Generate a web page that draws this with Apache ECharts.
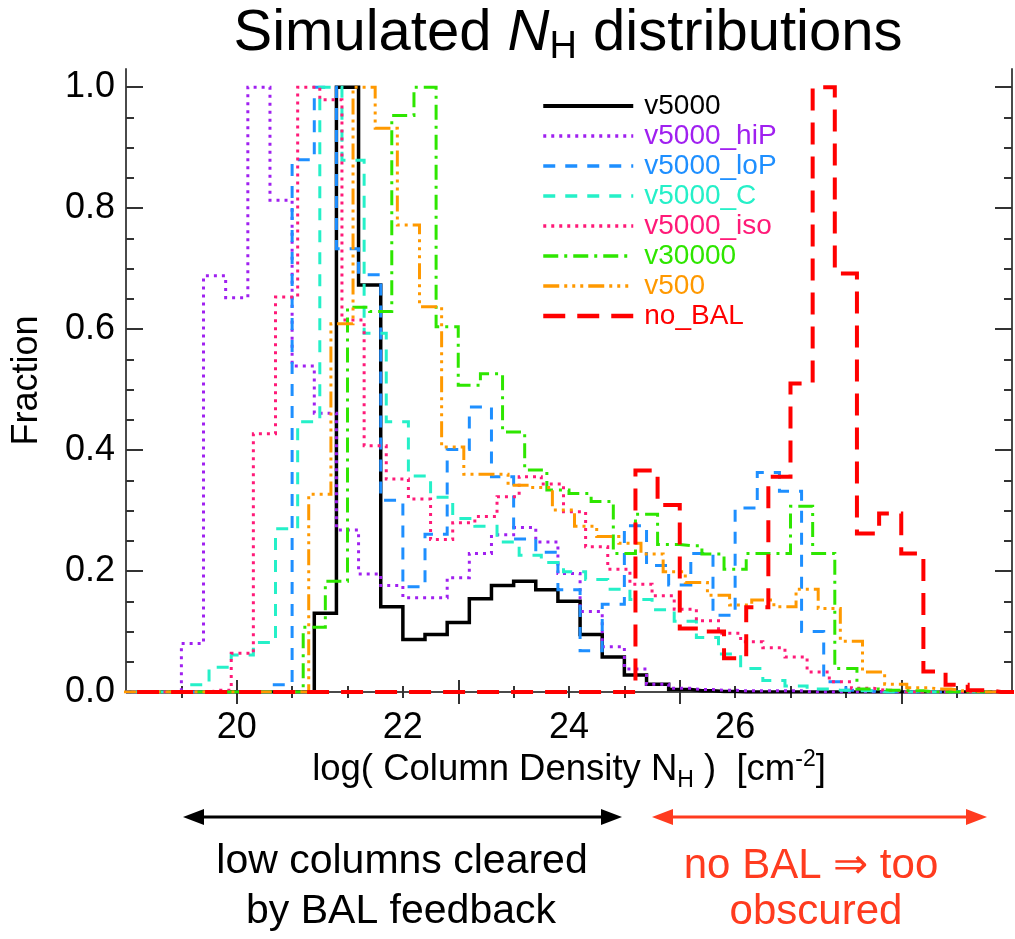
<!DOCTYPE html>
<html><head><meta charset="utf-8">
<script src="https://cdn.jsdelivr.net/npm/echarts@6/dist/echarts.min.js"></script>
<style>html,body{margin:0;padding:0;background:#fff}#c{width:1015px;height:939px}</style>
</head><body><div id="c"></div>
<script>
// ---- bin centres (log N_H) for the four bin grids used by the models ----
const nhA = [18.667,18.933,19.200,19.467,19.733,20.000,20.267,20.533,20.800,21.067,21.333,21.600,21.867,22.133,22.400,22.667,22.933,23.200,23.467,23.733,24.000,24.267,24.533,24.800,25.067,25.333,25.600,25.867,26.133,26.400,26.667,26.933,27.200,27.467,27.733,28.000,28.267,28.533,28.800,29.067,29.333];
const nhB = [18.733,19.000,19.267,19.533,19.800,20.067,20.333,20.600,20.867,21.133,21.400,21.667,21.933,22.200,22.467,22.733,23.000,23.267,23.533,23.800,24.067,24.333,24.600,24.867,25.133,25.400,25.667,25.933,26.200,26.467,26.733,27.000,27.267,27.533,27.800,28.067,28.333,28.600,28.867,29.133,29.400];
const nhC = [18.600,18.867,19.133,19.400,19.667,19.933,20.200,20.467,20.733,21.000,21.267,21.533,21.800,22.067,22.333,22.600,22.867,23.133,23.400,23.667,23.933,24.200,24.467,24.733,25.000,25.267,25.533,25.800,26.067,26.333,26.600,26.867,27.133,27.400,27.667,27.933,28.200,28.467,28.733,29.000,29.267];
const nhD = [18.800,19.067,19.333,19.600,19.867,20.133,20.400,20.667,20.933,21.200,21.467,21.733,22.000,22.267,22.533,22.800,23.067,23.333,23.600,23.867,24.133,24.400,24.667,24.933,25.200,25.467,25.733,26.000,26.267,26.533,26.800,27.067,27.333,27.600,27.867,28.133,28.400,28.667,28.933,29.200,29.467];

// ---- fractions per model ----
const v5000     = [0,0,0,0,0,0,0,0,0,0.130,1.000,0.673,0.141,0.087,0.095,0.115,0.154,0.176,0.183,0.169,0.150,0.095,0.058,0.028,0.013,0.004,0.002,0.001,0,0,0,0,0,0,0,0,0,0,0,0,0];
const v5000_hiP = [0,0,0,0.080,0.688,0.652,1.000,0.813,0.539,0.461,0.268,0.195,0.176,0.156,0.156,0.189,0.229,0.260,0.272,0.248,0.196,0.133,0.075,0.038,0.013,0.006,0.004,0.003,0.002,0.002,0.002,0,0,0,0,0,0,0,0,0,0];
const v5000_loP = [0,0,0,0,0,0,0,0.012,0.880,1.000,0.733,0.690,0.317,0.174,0.261,0.401,0.471,0.356,0.253,0.231,0.169,0.068,0.145,0.275,0.209,0.177,0.229,0.127,0.304,0.363,0.332,0.100,0.017,0.003,0,0,0,0,0,0,0];
const v5000_C   = [0,0,0,0.012,0.041,0.061,0.082,0.270,0.447,1.000,0.879,0.593,0.447,0.357,0.322,0.287,0.274,0.248,0.226,0.214,0.199,0.186,0.170,0.153,0.136,0.117,0.090,0.063,0.039,0.019,0.010,0.005,0.003,0.002,0,0,0,0,0,0,0];
const v5000_iso = [0,0,0,0,0.003,0.064,0.427,0.653,1.000,0.979,0.615,0.407,0.352,0.319,0.252,0.280,0.290,0.323,0.356,0.344,0.298,0.240,0.203,0.178,0.159,0.137,0.118,0.097,0.083,0.073,0.058,0.033,0.017,0.006,0.003,0,0,0,0,0,0];
const v30000    = [0,0,0,0,0,0,0,0,0.107,0.183,0.636,0.629,0.953,1.000,0.604,0.507,0.526,0.430,0.367,0.334,0.328,0.315,0.229,0.294,0.244,0.242,0.228,0.203,0.229,0.229,0.307,0.229,0.039,0.005,0.003,0.002,0,0,0,0,0];
const v500      = [0,0,0,0,0,0,0,0,0,0.327,0.609,1.000,0.932,0.772,0.637,0.405,0.360,0.360,0.342,0.338,0.301,0.274,0.257,0.246,0.228,0.199,0.181,0.160,0.144,0.152,0.141,0.170,0.138,0.084,0.033,0.013,0.007,0.005,0.002,0,0];
const no_BAL    = [0,0,0,0,0,0,0,0,0,0,0,0,0,0,0,0,0,0,0,0,0,0,0,0.366,0.309,0.105,0.100,0.056,0.140,0.356,0.510,1.000,0.692,0.262,0.295,0.229,0.034,0.012,0.003,0,0];

const seriesNames = ['v5000','v5000_hiP','v5000_loP','v5000_C','v5000_iso','v30000','v500','no_BAL'];
const seriesX = [nhA, nhA, nhA, nhB, nhB, nhD, nhC, nhD];
const seriesY = [v5000, v5000_hiP, v5000_loP, v5000_C, v5000_iso, v30000, v500, no_BAL];

// ---- tick values ----
const xMajorTicks = [20, 22.6667, 25.3333, 28];
const xMinorTicks = [19.3333, 20.6667, 21.3333, 22, 23.3333, 24, 24.6667, 26, 26.6667, 27.3333, 28.6667];
const xTickLabels = [20, 22, 24, 26];
const yMajorTicks = [0, 0.2, 0.4, 0.6, 0.8, 1.0];
const yMinorTicks = [0.05,0.10,0.15,0.25,0.30,0.35,0.45,0.50,0.55,0.65,0.70,0.75,0.85,0.90,0.95];

// ---- styles ----
const FONT = "'Liberation Sans', Arial, Helvetica, sans-serif";
const styles = [
  {color:'#000000', width:3.5, type:'solid'},
  {color:'#a020f0', width:3, type:[3,5]},
  {color:'#1e8fff', width:3, type:[12,10]},
  {color:'#25f0c8', width:3, type:[12,10]},
  {color:'#ff1a78', width:3, type:[3,5]},
  {color:'#2ee600', width:3, type:[15,6,3,6]},
  {color:'#ff9900', width:3, type:[16,5,3,5,3,5,3,5]},
  {color:'#ff0000', width:4, type:[22,12]}
];

const X_MIN = 18.6667, X_MAX = 29.3333, Y_MIN = 0, Y_MAX = 1.03;
const AXC = '#4a4a4a';
const lineOn = {show:true, lineStyle:{color:AXC, width:2}};
const lineOff = {show:false};
function xAx(pos, ticks, len, line, labels) {
  return {type:'value', min:X_MIN, max:X_MAX, position:pos, axisLine: line ? lineOn : lineOff,
    axisTick:{show:true, inside:true, length:len, customValues:ticks, lineStyle:{color:'#333', width:2}},
    axisLabel: labels ? {show:true, customValues:labels, margin:18, fontSize:36, color:'#000', fontFamily:FONT} : {show:false},
    splitLine:{show:false}, minorTick:{show:false}};
}
function yAx(pos, ticks, len, line, labels) {
  return {type:'value', min:Y_MIN, max:Y_MAX, position:pos, axisLine: line ? lineOn : lineOff,
    axisTick:{show:true, inside:true, length:len, customValues:ticks, lineStyle:{color:'#333', width:2}},
    axisLabel: labels ? {show:true, customValues:labels, margin:11, fontSize:36, color:'#000', fontFamily:FONT,
      formatter: v => Number(v).toFixed(1)} : {show:false},
    splitLine:{show:false}};
}

const xMain = xAx('bottom', xMajorTicks, 12, true, xTickLabels);
xMain.name = 'log( Column Density N{sub|H} )  [cm{sup|-2}]';
xMain.nameLocation = 'middle';
xMain.nameGap = 56;
xMain.nameMoveOverlap = false;
xMain.nameTextStyle = {fontSize:36.5, fontFamily:FONT, color:'#000', lineHeight:44,
  rich:{sub:{fontSize:23, fontFamily:FONT, color:'#000', verticalAlign:'bottom', lineHeight:16},
        sup:{fontSize:23, fontFamily:FONT, color:'#000', verticalAlign:'top', lineHeight:22}}};
const yMain = yAx('left', yMajorTicks, 17, true, yMajorTicks);
yMain.name = 'Fraction';
yMain.nameLocation = 'middle';
yMain.nameGap = 81;
yMain.nameMoveOverlap = false;
yMain.nameTextStyle = {fontSize:36, fontFamily:FONT, color:'#000'};

const series = seriesNames.map((n, i) => ({
  name:n, type:'line', step:'middle', xAxisIndex:0, yAxisIndex:0,
  data: seriesX[i].map((x, j) => [x, seriesY[i][j]]),
  symbol:'none', showSymbol:false, clip:true, silent:true,
  lineStyle:{color:styles[i].color, width:styles[i].width, type:styles[i].type, cap:'butt', join:'miter'},
  itemStyle:{color:styles[i].color}
}));

const chart = echarts.init(document.getElementById('c'), null, {renderer:'canvas'});
chart.setOption({
  animation:false,
  backgroundColor:'#fff',
  grid:{left:126, top:69, width:886, height:623, containLabel:false, outerBoundsMode:'none'},
  xAxis:[xMain, xAx('bottom', xMinorTicks, 6, false, null), xAx('top', xMajorTicks, 12, true, null), xAx('top', xMinorTicks, 6, false, null)],
  yAxis:[yMain, yAx('left', yMinorTicks, 8, false, null), yAx('right', yMajorTicks, 17, true, null), yAx('right', yMinorTicks, 8, false, null)],
  legend:{orient:'vertical', left:536, top:87, itemWidth:90, itemHeight:10, itemGap:2, selectedMode:false,
    itemStyle:{color:'rgba(0,0,0,0)', borderWidth:0},
    textStyle:{fontSize:28, fontFamily:FONT, lineHeight:28, padding:[0,0,0,6]},
    data: seriesNames.map((n, i) => ({name:n,
      lineStyle:{width:styles[i].width + 0.5, type:styles[i].type, color:styles[i].color, cap:'butt'},
      textStyle:{color:styles[i].color, fontSize:28, fontFamily:FONT}}))},
  series: series,
  graphic:[
    {type:'text', x:568, y:34, style:{text:'{a|Simulated }{n|N}{h|H}{a| distributions}', align:'center', verticalAlign:'middle',
      rich:{a:{fontSize:58, fontFamily:FONT, fill:'#000', lineHeight:66},
            n:{fontSize:58, fontFamily:FONT, fill:'#000', fontStyle:'italic', lineHeight:66},
            h:{fontSize:38, fontFamily:FONT, fill:'#000', verticalAlign:'bottom', lineHeight:40}}}},
    {type:'line', shape:{x1:198, y1:817, x2:607, y2:817}, style:{stroke:'#000', lineWidth:3}},
    {type:'polygon', shape:{points:[[183,817],[204,809],[204,825]]}, style:{fill:'#000'}},
    {type:'polygon', shape:{points:[[622,817],[601,809],[601,825]]}, style:{fill:'#000'}},
    {type:'line', shape:{x1:667, y1:817, x2:972, y2:817}, style:{stroke:'#ff3b1f', lineWidth:3}},
    {type:'polygon', shape:{points:[[652,817],[673,809],[673,825]]}, style:{fill:'#ff3b1f'}},
    {type:'polygon', shape:{points:[[987,817],[966,809],[966,825]]}, style:{fill:'#ff3b1f'}},
    {type:'text', x:402, y:862, style:{text:'low columns cleared', align:'center', verticalAlign:'middle', fontSize:41, fontFamily:FONT, fill:'#000'}},
    {type:'text', x:401, y:912, style:{text:'by BAL feedback', align:'center', verticalAlign:'middle', fontSize:41, fontFamily:FONT, fill:'#000'}},
    {type:'text', x:811, y:866, style:{text:'no BAL \u21D2 too', align:'center', verticalAlign:'middle', fontSize:42, fontFamily:FONT, fill:'#ff3b1f'}},
    {type:'text', x:816, y:912, style:{text:'obscured', align:'center', verticalAlign:'middle', fontSize:42, fontFamily:FONT, fill:'#ff3b1f'}}
  ]
});
</script>
</body></html>
